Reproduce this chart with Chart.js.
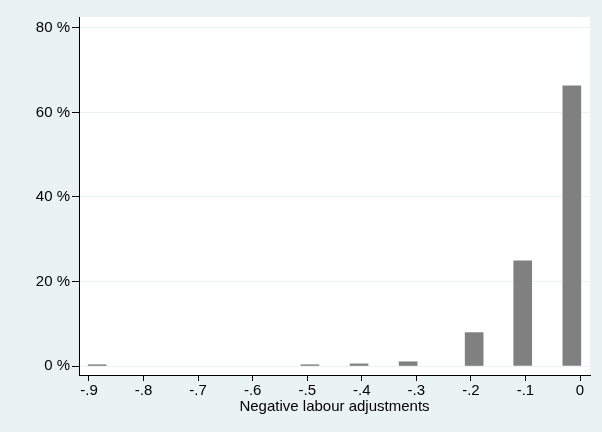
<!DOCTYPE html>
<html>
<head>
<meta charset="utf-8">
<script src="https://cdn.jsdelivr.net/npm/chart.js@4"></script>
<style>
  html, body { margin: 0; padding: 0; background: #eaf2f3; }
  #wrap { width: 602px; height: 432px; }
</style>
</head>
<body>
<div id="wrap"><canvas id="chartHist" width="602" height="432"></canvas></div>
<script>
// bin centres (x) and percentages
var binCentres = [-0.885, -0.495, -0.405, -0.315, -0.194, -0.105, -0.015];
var percents = [0.3, 0.3, 0.5, 1.0, 7.9, 24.9, 66.3];
var xTicks = [-0.9, -0.8, -0.7, -0.6, -0.5, -0.4, -0.3, -0.2, -0.1, 0];
var yTicks = [0, 20, 40, 60, 80];

var fundoExterno = '#eaf2f3';
var fonte = { family: 'Liberation Sans, Arial, sans-serif', size: 15 };

// pinta o fundo externo e a area do grafico
const fundoPlugin = {
    id: 'fundo',
    beforeDraw: function (chart) {
        const ctx = chart.ctx;
        const a = chart.chartArea;
        ctx.save();
        ctx.fillStyle = fundoExterno;
        ctx.fillRect(0, 0, chart.width, chart.height);
        ctx.fillStyle = '#ffffff';
        ctx.fillRect(a.left, a.top, a.right - a.left, a.bottom - a.top);
        ctx.restore();
    }
};

function formatX(v) {
    if (Math.abs(v) < 1e-9) return '0';
    return '-.' + Math.round(Math.abs(v) * 10);
}

let dados = {
    datasets: [
        {
            label: 'Percent',
            data: binCentres.map(function (x, i) { return { x: x, y: percents[i] }; }),
            backgroundColor: '#808080',
            borderWidth: 0,
            barThickness: 18
        }
    ]
};

const config = {
    type: 'bar',
    data: dados,
    plugins: [fundoPlugin],
    options: {
        responsive: false,
        animation: false,
        layout: { padding: { left: 0, right: 12, top: 17, bottom: 0 } },
        plugins: {
            legend: { display: false },
            tooltip: { enabled: false }
        },
        scales: {
            x: {
                type: 'linear',
                offset: false,
                min: -0.9183,
                max: 0.0183,
                afterBuildTicks: function (scale) {
                    scale.ticks = xTicks.map(function (v) { return { value: v }; });
                },
                afterFit: function (scale) { scale.height = 57; },
                grid: {
                    offset: false,
                    drawOnChartArea: false,
                    drawTicks: true,
                    tickLength: 6,
                    tickColor: '#000000'
                },
                border: { display: true, color: '#000000', width: 1 },
                ticks: {
                    autoSkip: false,
                    maxRotation: 0,
                    padding: 1,
                    color: '#000000',
                    font: fonte,
                    callback: function (v) { return formatX(v); }
                },
                title: {
                    display: true,
                    text: 'Negative labour adjustments',
                    color: '#000000',
                    padding: { top: 0, bottom: 16 },
                    font: fonte
                }
            },
            y: {
                min: -2.13,
                max: 82.6,
                afterBuildTicks: function (scale) {
                    scale.ticks = yTicks.map(function (v) { return { value: v }; });
                },
                afterFit: function (scale) { scale.width = 79; },
                grid: {
                    color: fundoExterno,
                    lineWidth: 1,
                    drawTicks: true,
                    tickLength: 7,
                    tickColor: '#000000'
                },
                border: { display: true, color: '#000000', width: 1 },
                ticks: {
                    padding: 2,
                    color: '#000000',
                    font: fonte,
                    callback: function (v) { return v + ' %'; }
                }
            }
        }
    }
};

let myChart = new Chart(
    document.getElementById('chartHist'),
    config
);
</script>
</body>
</html>
